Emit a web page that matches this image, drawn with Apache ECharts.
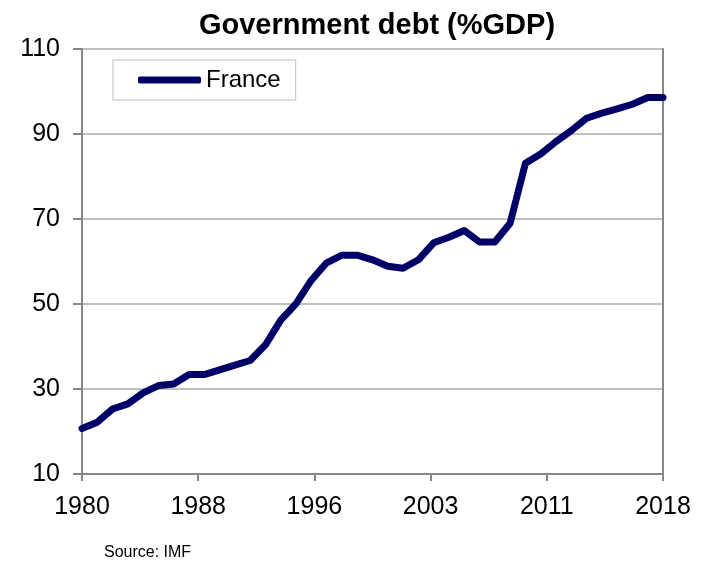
<!DOCTYPE html>
<html>
<head>
<meta charset="utf-8">
<script src="https://cdn.jsdelivr.net/npm/echarts@6/dist/echarts.min.js"></script>
<style>
  html, body { margin: 0; padding: 0; background: #ffffff; }
  #chart { width: 710px; height: 567px; }
</style>
</head>
<body>
<div id="chart"></div>
<script>
// French government debt, % of GDP, 1980-2018
const years = [1980, 1981, 1982, 1983, 1984, 1985, 1986, 1987, 1988, 1989,
               1990, 1991, 1992, 1993, 1994, 1995, 1996, 1997, 1998, 1999,
               2000, 2001, 2002, 2003, 2004, 2005, 2006, 2007, 2008, 2009,
               2010, 2011, 2012, 2013, 2014, 2015, 2016, 2017, 2018];
const franceDebt = [20.7, 22.2, 25.3, 26.5, 29.1, 30.8, 31.2, 33.4, 33.4, 34.5,
                    35.6, 36.7, 40.4, 46.2, 50.1, 55.6, 59.7, 61.5, 61.5, 60.4,
                    58.9, 58.4, 60.4, 64.4, 65.7, 67.3, 64.6, 64.6, 69.0, 83.1,
                    85.3, 88.2, 90.8, 93.7, 94.9, 95.9, 97.0, 98.6, 98.6];
const xTickLabels = ['1980', '1988', '1996', '2003', '2011', '2018'];
const seriesName = 'France';

const firstYear = years[0];
const span = years[years.length - 1] - firstYear;
const xStep = span / (xTickLabels.length - 1);

const chart = echarts.init(document.getElementById('chart'), null, { renderer: 'canvas' });
const font = '"Liberation Sans", Arial, sans-serif';
const axisGray = '#868686';

chart.setOption({
  animation: false,
  backgroundColor: '#ffffff',
  title: [{
    text: 'Government debt (%GDP)',
    left: 372, top: 6, textAlign: 'center',
    textStyle: { fontFamily: font, fontWeight: 'bold', fontSize: 29, color: '#000000' }
  }, {
    text: 'Source: IMF',
    left: 99, top: 540,
    textStyle: { fontFamily: font, fontWeight: 'normal', fontSize: 16, color: '#000000' }
  }],
  legend: {
    left: 113, top: 60,
    padding: [8, 15, 8, 25],
    borderColor: '#bfbfbf', borderWidth: 1,
    itemWidth: 63, itemHeight: 7,
    icon: 'roundRect',
    textStyle: { fontFamily: font, fontSize: 24, color: '#000000' },
    data: [seriesName]
  },
  grid: { left: 82, right: 47, top: 49, bottom: 93, containLabel: false },
  xAxis: {
    type: 'value',
    min: 0, max: span, interval: xStep,
    axisLine: { show: true, lineStyle: { color: axisGray, width: 2 } },
    axisTick: { show: true, length: 7, lineStyle: { color: axisGray, width: 2 } },
    splitLine: { show: false },
    axisLabel: {
      fontFamily: font, fontSize: 25, color: '#000000', margin: 21,
      formatter: v => xTickLabels[Math.round(v / xStep)] || ''
    }
  },
  yAxis: [{
    type: 'value',
    min: 10, max: 110, interval: 20,
    axisLine: { show: true, lineStyle: { color: axisGray, width: 2 } },
    axisTick: { show: true, length: 9, lineStyle: { color: axisGray, width: 2 } },
    splitLine: { show: true, lineStyle: { color: '#c0c0c0', width: 2 } },
    axisLabel: { fontFamily: font, fontSize: 25, color: '#000000', margin: 22 }
  }, {
    type: 'value', position: 'right',
    min: 10, max: 110, interval: 20,
    axisLine: { show: true, lineStyle: { color: axisGray, width: 2 } },
    axisTick: { show: false },
    splitLine: { show: false },
    axisLabel: { show: false }
  }],
  series: [{
    name: seriesName,
    type: 'line',
    yAxisIndex: 0,
    symbol: 'none',
    color: '#000066',
    lineStyle: { color: '#000066', width: 7, join: 'round', cap: 'round' },
    data: years.map((y, i) => [y - firstYear, franceDebt[i]])
  }]
});
</script>
</body>
</html>
